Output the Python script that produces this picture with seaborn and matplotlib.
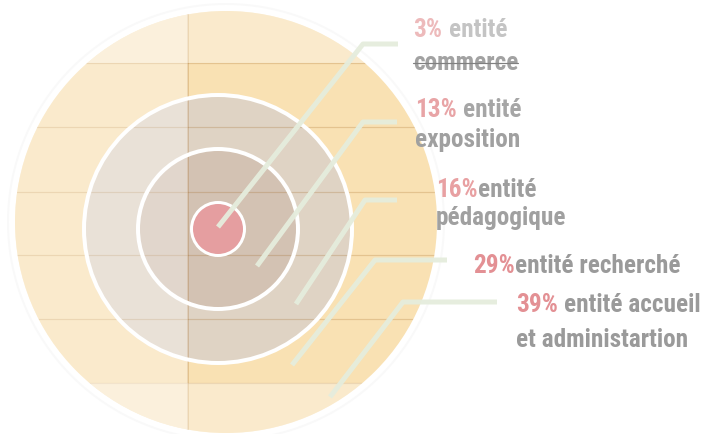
import matplotlib
matplotlib.use("Agg")
import matplotlib.pyplot as plt
import matplotlib.patches as mpatches
import pandas as pd
import seaborn as sns

# --- data -------------------------------------------------------------
shares = [3, 13, 16, 29, 39]
first_line = ["entité", "entité", "entité", "entité recherché", "entité accueil"]
second_line = ["commerce", "exposition", "pédagogique", "", "et administartion"]
pct_gap = [7, 6, 0, 0, 6]  # pixels between the percentage and its text

# --- styling ------------------------------------------------------------
pct_colors = ["#EDBABB", "#E8A4A6", "#E8A0A2", "#E39094", "#E39094"]
txt_colors = ["#C4C4C4", "#A6A6A6", "#9E9E9E", "#9A9A9A", "#9A9A9A"]
sub_colors = ["#A2A2A2", "#A0A0A0", "#A0A0A0", "#9A9A9A", "#9A9A9A"]

W, H, DPI = 702, 434, 100
PX = 72.0 / DPI  # points per pixel

sns.set_theme(style="white")
plt.rcParams["font.family"] = ["Roboto Condensed", "DejaVu Sans"]

fig = plt.figure(figsize=(W / DPI, H / DPI), dpi=DPI)
ax = fig.add_axes([0, 0, 1, 1])

# layout (pixel space)
disc_c, disc_r = (226, 222), 211
ring_c = (218, 229)
ring_radii = [134, 80]
core_r = 26.5
col_split = 188
row_lines = [63, 127, 192, 255, 319, 383]

# outer halo
ax.add_patch(mpatches.Circle(disc_c, disc_r + 7, fill=False, ec="#EEEEEE",
                             lw=2 * PX, alpha=0.35, zorder=0))
disc = mpatches.Circle(disc_c, disc_r, fc="#F9E1B3", ec="none", zorder=1)
ax.add_patch(disc)
ax.add_patch(mpatches.Circle(ring_c, ring_radii[0], fc="#DFD3C4", ec="none", zorder=2))
ax.add_patch(mpatches.Circle(ring_c, ring_radii[1], fc="#D3C2B3", ec="none", zorder=2))

# table grid, kept inside the disc
for y in row_lines:
    ln, = ax.plot([0, W], [y, y], color="#9A5A10", alpha=0.22, lw=1.2 * PX, zorder=3)
    ln.set_clip_path(disc)
ln, = ax.plot([col_split, col_split], [0, H], color="#9A5A10", alpha=0.25,
              lw=1.8 * PX, zorder=3)
ln.set_clip_path(disc)

# lighter cells: left column, top and bottom rows
for xy, w, h in [((0, 0), col_split, H),
                 ((0, 0), W, row_lines[0]),
                 ((0, row_lines[-1]), W, H - row_lines[-1])]:
    r = mpatches.Rectangle(xy, w, h, fc="white", ec="none", alpha=0.33, zorder=4)
    ax.add_patch(r)
    r.set_clip_path(disc)

# white ring strokes and the core dot
for rr in ring_radii:
    ax.add_patch(mpatches.Circle(ring_c, rr, fill=False, ec="white",
                                 lw=4 * PX, zorder=5))
ax.add_patch(mpatches.Circle(ring_c, core_r, fc="#E59EA0", ec="white",
                             lw=3 * PX, zorder=6))

# leader lines
leaders = [
    [(218, 227), (363, 44), (398, 44)],
    [(257, 266), (363, 122), (397, 122)],
    [(296, 304), (365, 200), (397, 200)],
    [(292, 365), (375, 260), (447, 260)],
    [(330, 397), (403, 302), (497, 302)],
]
rows = []
for s, pts in zip(shares, leaders):
    for i, (x, y) in enumerate(pts):
        rows.append({"share": s, "order": i, "x": x, "y": y})
lead_df = pd.DataFrame(rows)
sns.lineplot(data=lead_df, x="x", y="y", units="share", estimator=None,
             sort=False, color="#E5EDDD", lw=5 * PX, alpha=0.95,
             solid_capstyle="butt", solid_joinstyle="round", ax=ax,
             legend=False, zorder=7)
ax.set_xlim(0, W)
ax.set_ylim(H, 0)
ax.axis("off")

# labels
label_pos = [  # (left x, baseline y, second-line baseline y)
    (413, 37, 70),
    (415, 117, 147),
    (436, 197, 225),
    (473, 273, None),
    (516, 312, 347),
]
fs = 18.2
tkw = dict(fontsize=fs, fontweight="bold", fontstretch="condensed",
           va="baseline", ha="left", zorder=8)
renderer = fig.canvas.get_renderer()
for s, l1, l2, gap, pc, tc, sc, (lx, by, by2) in zip(
        shares, first_line, second_line, pct_gap, pct_colors, txt_colors,
        sub_colors, label_pos):
    pt = ax.text(lx, by, f"{s}%", color=pc, **tkw)
    x_end = pt.get_window_extent(renderer).x1
    ax.text(x_end + gap, by, l1, color=tc, **tkw)
    if l2:
        st = ax.text(lx, by2, l2, color=sc, **tkw)
        if s == shares[0]:
            bb = st.get_window_extent(renderer)
            ax.plot([bb.x0, bb.x1], [by2 - 7, by2 - 7], color="#808080",
                    lw=1.2 * PX, zorder=9)

fig.savefig("out.png", dpi=DPI)
